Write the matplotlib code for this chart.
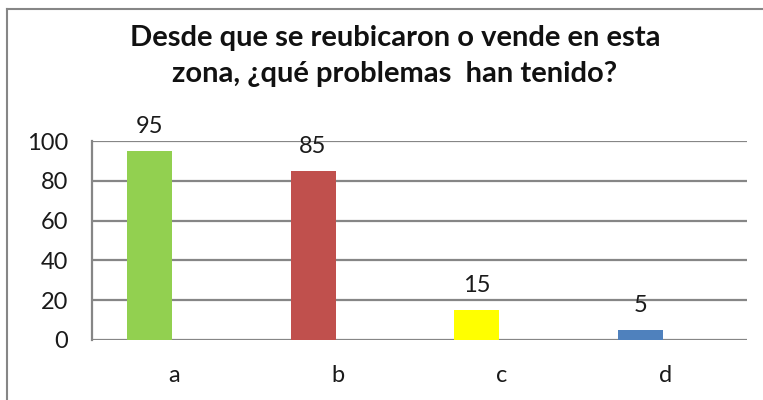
import matplotlib.pyplot as plt
import numpy as np
from matplotlib.lines import Line2D

categories = ['a', 'b', 'c', 'd']
values = [95, 85, 15, 5]
colors = ['#92D050', '#C0504D', '#FFFF00', '#4F81BD']
yticks = [0, 20, 40, 60, 80, 100]
title = 'Desde que se reubicaron o vende en esta\nzona, ¿qué problemas  han tenido?'

plt.rcParams['font.family'] = ['Lato', 'DejaVu Sans']

W, H = 763, 400
fig = plt.figure(figsize=(W / 100, H / 100), dpi=100)
ax = fig.add_axes([92 / W, 60 / H, (747 - 92) / W, (340 - 141) / H])

index = np.arange(len(categories))
width = 0.275
offset = -0.15
bars = ax.bar(index + offset, values, width, color=colors, zorder=3)

for b, v in zip(bars, values):
    ax.text(b.get_x() + b.get_width() / 2, v + 7, str(v),
            ha='center', va='bottom', fontsize=17, color='#1a1a1a')

ax.set_xlim(-0.5, 3.5)
ax.set_ylim(0, 100)
ax.set_yticks(yticks)
ax.set_xticks(index)
ax.set_xticklabels(categories)
ax.tick_params(axis='both', length=0, labelsize=17, colors='#1a1a1a')
ax.tick_params(axis='x', pad=18)
ax.tick_params(axis='y', pad=17)
ax.yaxis.grid(True, color='#868686', linewidth=1.6, zorder=0)
for s in ['top', 'right', 'bottom']:
    ax.spines[s].set_visible(False)
ax.spines['left'].set_color('#868686')
ax.spines['left'].set_linewidth(1.6)

fig.text(395 / W, 1 - 56 / H, title, ha='center', va='center',
         fontsize=21, fontweight='bold', linespacing=1.5, color='#111111')

# outer chart border
fig.add_artist(Line2D([7 / W, 7 / W], [0, 1 - 9 / H], transform=fig.transFigure,
                      color='#868686', linewidth=1.5))
fig.add_artist(Line2D([7 / W, 1], [1 - 9 / H, 1 - 9 / H], transform=fig.transFigure,
                      color='#868686', linewidth=1.5))

fig.savefig('out.png', dpi=100)
